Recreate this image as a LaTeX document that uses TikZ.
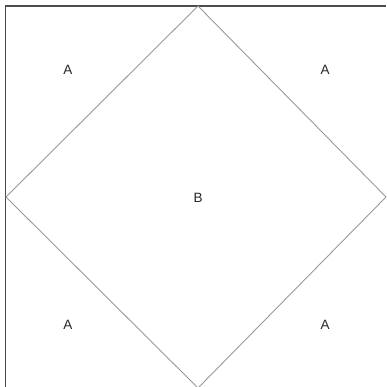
\documentclass[tikz,border=0pt]{standalone}
\usepackage{fontspec}
\setmainfont{Liberation Sans}
\begin{document}
\begin{tikzpicture}[x=1pt,y=-1pt,
  frame/.style={draw=black!70,line width=1.6pt},
  edge/.style={draw=black!40,line width=0.9pt},
  lab/.style={font=\fontsize{13.5}{15}\selectfont,text=black!85,inner sep=0pt}]
\useasboundingbox (0,0) rectangle (386,387);
\coordinate (ftl) at (5.5,6);
\coordinate (ftr) at (386,6);
\coordinate (fbl) at (5.5,387);
\draw[frame] (ftr) -- (ftl) -- (fbl);
\coordinate (dt) at (198,6);
\coordinate (dr) at (386,197);
\coordinate (db) at (198,388);
\coordinate (dl) at (6,197);
\draw[edge] (dt) -- (dr) -- (db) -- (dl) -- cycle;
\node[lab] (a1) at (68,70) {A};
\node[lab] (a2) at (325,70) {A};
\node[lab] (a3) at (68,325) {A};
\node[lab] (a4) at (325,325) {A};
\node[lab] (b) at (198,198) {B};
\end{tikzpicture}
\end{document}
